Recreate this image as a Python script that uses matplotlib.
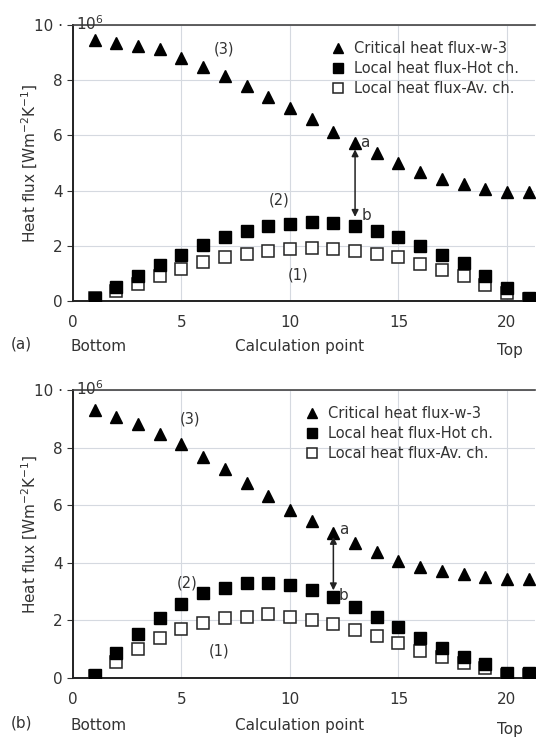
import matplotlib
matplotlib.use("Agg")
import matplotlib.pyplot as plt

points = list(range(1, 22))

# Panel (a) values (units of 1e6)
crit_a = [9.45, 9.36, 9.26, 9.13, 8.82, 8.49, 8.15, 7.79, 7.40, 7.00, 6.58, 6.14,
          5.74, 5.37, 5.00, 4.69, 4.41, 4.24, 4.05, 3.96, 3.96]
hot_a = [0.12, 0.52, 0.90, 1.30, 1.67, 2.03, 2.31, 2.54, 2.72, 2.81, 2.87, 2.83,
         2.72, 2.54, 2.31, 2.00, 1.67, 1.37, 0.90, 0.46, 0.10]
av_a = [0.10, 0.37, 0.62, 0.90, 1.18, 1.42, 1.58, 1.72, 1.83, 1.88, 1.92, 1.88,
        1.83, 1.72, 1.58, 1.33, 1.13, 0.90, 0.58, 0.28, 0.08]

# Panel (b) values (units of 1e6)
crit_b = [9.30, 9.07, 8.82, 8.47, 8.12, 7.68, 7.25, 6.76, 6.32, 5.83, 5.45, 5.05,
          4.70, 4.39, 4.07, 3.87, 3.73, 3.61, 3.52, 3.43, 3.43]
hot_b = [0.10, 0.86, 1.52, 2.07, 2.57, 2.94, 3.14, 3.29, 3.30, 3.23, 3.06, 2.80,
         2.48, 2.13, 1.78, 1.38, 1.03, 0.74, 0.47, 0.18, 0.17]
av_b = [0.08, 0.57, 1.00, 1.38, 1.69, 1.92, 2.07, 2.12, 2.22, 2.13, 2.01, 1.86,
        1.67, 1.47, 1.20, 0.95, 0.72, 0.53, 0.34, 0.12, 0.10]

xticks = [0, 5, 10, 15, 20]
yticks = [0, 2, 4, 6, 8, 10]
ytick_labels = ["0", "2", "4", "6", "8", "10 \u00b7"]

labels = ["Critical heat flux-w-3", "Local heat flux-Hot ch.", "Local heat flux-Av. ch."]

panels = [
    dict(crit=crit_a, hot=hot_a, av=av_a, tag="(a)", pos=[0.1357, 0.592, 0.859, 0.374],
         arrow_x=13, arrow_lo=2.95, arrow_hi=5.6, a_xy=(13.25, 5.75), b_xy=(13.3, 3.1),
         n3=(6.5, 9.15), n2=(9.0, 3.65), n1=(9.9, 0.95), leg_anchor=(0.519, 1.0)),
    dict(crit=crit_b, hot=hot_b, av=av_b, tag="(b)", pos=[0.1357, 0.0813, 0.859, 0.390],
         arrow_x=12, arrow_lo=2.95, arrow_hi=5.0, a_xy=(12.25, 5.15), b_xy=(12.25, 2.85),
         n3=(4.9, 9.0), n2=(4.8, 3.3), n1=(6.25, 0.95), leg_anchor=(0.464, 1.0)),
]

fig = plt.figure(figsize=(5.38, 7.38), dpi=100)
txt = "#333333"
plt.rcParams['font.family'] = ['DejaVu Sans']

for p in panels:
    ax = fig.add_axes(p["pos"])
    ax.set_xlim(0, 21.3)
    ax.set_ylim(0, 10)
    ax.grid(True, color="#d5d9e0", linewidth=0.8)
    ax.set_axisbelow(True)
    ax.plot(points, p["crit"], linestyle="none", marker="^", color="black", markersize=8.5,
            label=labels[0])
    ax.plot(points, p["av"], linestyle="none", marker="s", markerfacecolor="white",
            markeredgecolor="#222222", markeredgewidth=1.1, markersize=8, label=labels[2], zorder=3)
    ax.plot(points, p["hot"], linestyle="none", marker="s", color="black", markersize=8.5,
            label=labels[1], zorder=4)
    h, l = ax.get_legend_handles_labels()
    order = [0, 2, 1]
    ax.legend([h[i] for i in order], [l[i] for i in order], loc="upper left",
              bbox_to_anchor=p["leg_anchor"], frameon=False, fontsize=10.5, handletextpad=0.5,
              labelspacing=0.35, handlelength=1.2, borderpad=0.6, labelcolor=txt,
              markerscale=0.85)
    ax.set_xticks(xticks)
    ax.set_yticks(yticks)
    ax.set_yticklabels(ytick_labels)
    ax.tick_params(labelsize=11, colors=txt, length=4)
    ax.tick_params(axis="x", length=0, pad=10)
    for s in ["left", "bottom"]:
        ax.spines[s].set_linewidth(1.4)
        ax.spines[s].set_color("#222222")
    ax.spines["top"].set_color("#444444")
    ax.spines["top"].set_linewidth(1.2)
    ax.spines["right"].set_visible(False)
    ax.text(0.15, 10.05, "10$^6$", fontsize=11, color=txt, ha="left", va="center")
    ax.set_ylabel("Heat flux [Wm$^{-2}$K$^{-1}$]", fontsize=11, color=txt)
    ax.yaxis.set_label_coords(-0.072, 0.5)
    ax.annotate("", xy=(p["arrow_x"], p["arrow_hi"]), xytext=(p["arrow_x"], p["arrow_lo"]),
                arrowprops=dict(arrowstyle="<|-|>", color="#222222", lw=1.1, mutation_scale=10))
    ax.text(*p["a_xy"], "a", fontsize=11, color=txt, ha="left", va="center")
    ax.text(*p["b_xy"], "b", fontsize=11, color=txt, ha="left", va="center")
    ax.text(*p["n3"], "(3)", fontsize=10.5, color=txt, ha="left", va="center")
    ax.text(*p["n2"], "(2)", fontsize=10.5, color=txt, ha="left", va="center")
    ax.text(*p["n1"], "(1)", fontsize=10.5, color=txt, ha="left", va="center")
    ax.text(-0.135, -0.155, p["tag"], transform=ax.transAxes, fontsize=11, color=txt,
            ha="left", va="center")
    ax.text(-0.006, -0.165, "Bottom", transform=ax.transAxes, fontsize=11, color=txt,
            ha="left", va="center")
    ax.text(0.49, -0.165, "Calculation point", transform=ax.transAxes, fontsize=11,
            color=txt, ha="center", va="center")
    ax.text(0.945, -0.18, "Top", transform=ax.transAxes, fontsize=11, color=txt,
            ha="center", va="center")

fig.savefig("out.png", dpi=100)
